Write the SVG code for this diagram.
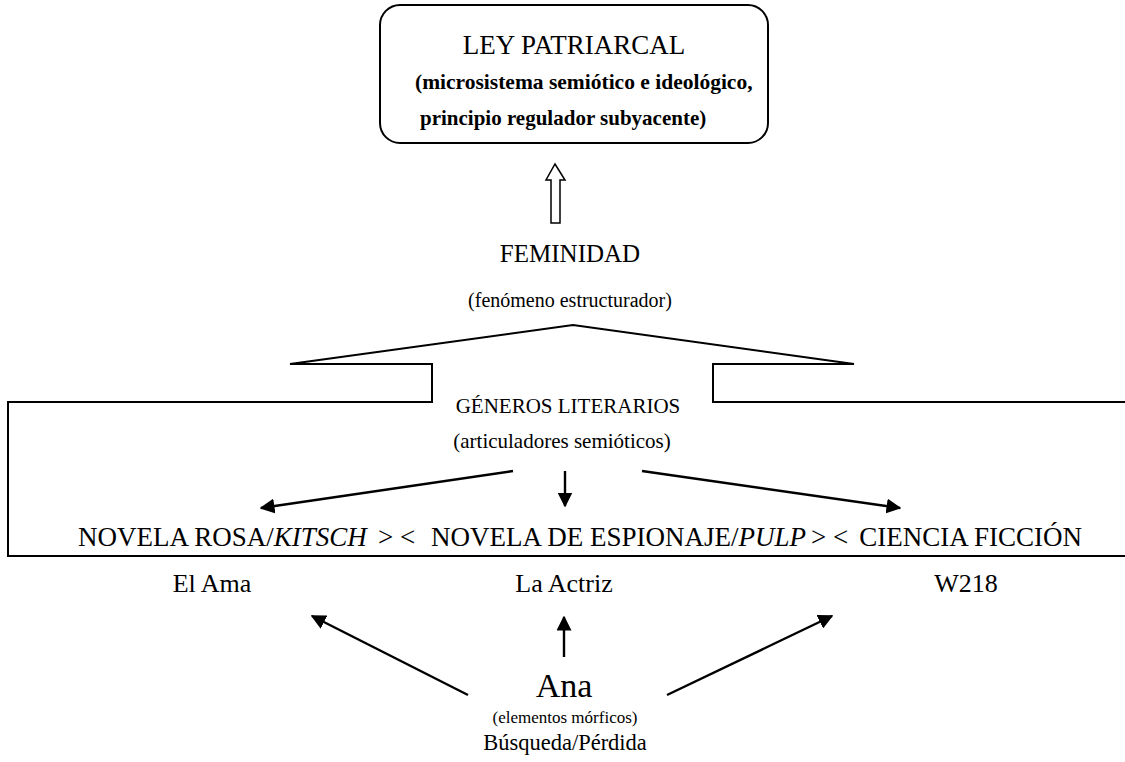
<svg xmlns="http://www.w3.org/2000/svg" width="1125" height="762" viewBox="0 0 1125 762">
<style>
text{font-family:"Liberation Serif","Times New Roman",serif;fill:#000}
.ln{fill:none;stroke:#000;stroke-width:2}
.ar{fill:none;stroke:#000;stroke-width:2.4}
.c{text-anchor:middle}
</style>
<defs>
<marker id="ah" viewBox="0 0 10 10" refX="9" refY="5" markerWidth="15" markerHeight="15" markerUnits="userSpaceOnUse" orient="auto">
<path d="M0 0 L10 5 L0 10 Z" fill="#000"/>
</marker>
</defs>
<rect width="1125" height="762" fill="#fff"/>
<g id="ley">
<rect x="380" y="5" width="388" height="138" rx="20" class="ln"/>
<text x="574" y="54" class="c" font-size="27">LEY PATRIARCAL</text>
<text x="415" y="89" font-size="21.5" font-weight="bold">(microsistema semiótico e ideológico,</text>
<text x="420" y="125" font-size="21" font-weight="bold">principio regulador subyacente)</text>
</g>
<g id="feminidad">
<polygon points="555,164 565,180 560,180 560,223 551,223 551,180 546,180" fill="#fff" stroke="#000" stroke-width="1.5"/>
<text x="570" y="262" class="c" font-size="25">FEMINIDAD</text>
<text x="570" y="307" class="c" font-size="20">(fenómeno estructurador)</text>
</g>
<g id="generos">
<path class="ln" d="M1125 556 L8 556 L8 402 L432 402 L432 364 L290 364 L573 325 L854 364 L713 364 L713 402 L1125 402"/>
<text x="568" y="413" class="c" font-size="21">GÉNEROS LITERARIOS</text>
<text x="562" y="448" class="c" font-size="21">(articuladores semióticos)</text>
<text x="78" y="546" font-size="27">NOVELA ROSA/<tspan font-style="italic">KITSCH</tspan></text>
<text x="378" y="546" font-size="27">&gt; &lt;</text>
<text x="431" y="546" font-size="27">NOVELA DE ESPIONAJE/<tspan font-style="italic">PULP</tspan></text>
<text x="811" y="546" font-size="27">&gt; &lt;</text>
<text x="1082" y="546" font-size="27" text-anchor="end">CIENCIA FICCIÓN</text>
</g>
<g id="novelas">
<text x="212" y="592" class="c" font-size="26">El Ama</text>
<text x="564" y="592" class="c" font-size="26">La Actriz</text>
<text x="966" y="592" class="c" font-size="26">W218</text>
</g>
<g id="ana">
<text x="564" y="697" class="c" font-size="34">Ana</text>
<text x="565" y="723" class="c" font-size="17">(elementos mórficos)</text>
<text x="565" y="750" class="c" font-size="22.5">Búsqueda/Pérdida</text>
</g>
<g id="connectors">
<line class="ar" x1="513" y1="471" x2="261" y2="508" marker-end="url(#ah)"/>
<line class="ar" x1="565" y1="471" x2="565" y2="506" marker-end="url(#ah)"/>
<line class="ar" x1="642" y1="471" x2="900" y2="508" marker-end="url(#ah)"/>
<line class="ar" x1="468" y1="695" x2="312" y2="616" marker-end="url(#ah)"/>
<line class="ar" x1="564" y1="657" x2="564" y2="617" marker-end="url(#ah)"/>
<line class="ar" x1="667" y1="695" x2="832" y2="616" marker-end="url(#ah)"/>
</g>
</svg>
